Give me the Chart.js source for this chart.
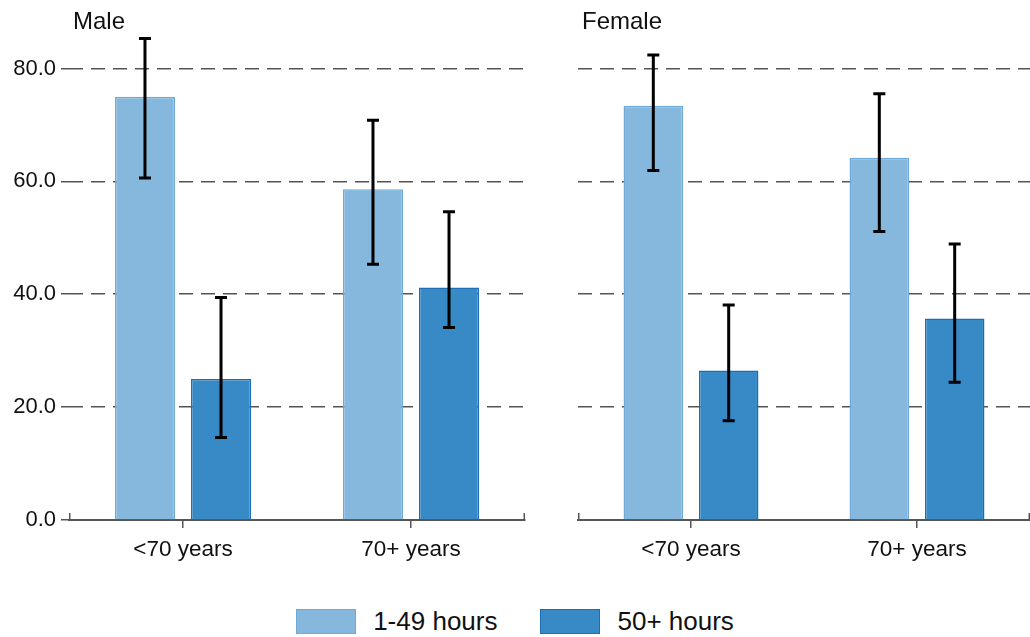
<!DOCTYPE html>
<html>
<head>
<meta charset="utf-8">
<script src="https://cdn.jsdelivr.net/npm/chart.js@4"></script>
<style>
  html, body { margin: 0; padding: 0; background: #fff; }
  #wrap { position: relative; width: 1030px; height: 637px; background: #fff; font-family: "Liberation Sans", Arial, sans-serif; }
  #cL { position: absolute; left: 0; top: 0; }
  #cR { position: absolute; left: 540px; top: 0; }
  #legend { position: absolute; left: 0; top: 605px; width: 1030px; height: 32px; display: flex; justify-content: center; align-items: center; }
  .item { display: flex; align-items: center; }
  .item + .item { margin-left: 43px; }
  .box { width: 58px; height: 23px; margin-right: 17px; }
  .lbl { font-size: 26px; color: #111; line-height: 26px; }
</style>
</head>
<body>
<div id="wrap">
  <canvas id="cL" width="540" height="570"></canvas>
  <canvas id="cR" width="490" height="570"></canvas>
  <div id="legend"></div>
</div>
<script>
// ---- data ----
const categories = ['<70 years', '70+ years'];
const seriesNames = ['1-49 hours', '50+ hours'];
const panelTitles = ['Male', 'Female'];
const yTicks = [0, 20, 40, 60, 80];

const male_1_49 = [75.0, 58.6];
const male_50 = [25.0, 41.2];
const male_1_49_ciLo = [60.6, 45.3];
const male_1_49_ciHi = [85.3, 70.8];
const male_50_ciLo = [14.6, 34.1];
const male_50_ciHi = [39.4, 54.6];

const female_1_49 = [73.4, 64.2];
const female_50 = [26.5, 35.7];
const female_1_49_ciLo = [61.9, 51.1];
const female_1_49_ciHi = [82.4, 75.5];
const female_50_ciLo = [17.6, 24.4];
const female_50_ciHi = [38.1, 48.9];

// ---- styles ----
const FONT = '"Liberation Sans", Arial, sans-serif';
const fills = ['#85b8dc', '#378ac6'];
const borders = ['#6eaad8', '#1c6fb6'];
const axisColor = '#555';

const errorBarPlugin = {
  id: 'errorBars',
  afterDatasetsDraw(chart, args, opts) {
    const ctx = chart.ctx;
    const ys = chart.scales.y;
    ctx.save();
    ctx.strokeStyle = '#000';
    ctx.lineWidth = 3;
    chart.data.datasets.forEach((ds, i) => {
      const meta = chart.getDatasetMeta(i);
      meta.data.forEach((el, j) => {
        const lo = ys.getPixelForValue(ds.ciLo[j]);
        const hi = ys.getPixelForValue(ds.ciHi[j]);
        const x = el.x;
        ctx.beginPath();
        ctx.moveTo(x, lo); ctx.lineTo(x, hi);
        ctx.moveTo(x - 6, lo); ctx.lineTo(x + 6, lo);
        ctx.moveTo(x - 6, hi); ctx.lineTo(x + 6, hi);
        ctx.stroke();
      });
    });
    ctx.restore();
  }
};

const decorPlugin = {
  id: 'decor',
  afterDraw(chart, args, opts) {
    const ctx = chart.ctx;
    const a = chart.chartArea;
    ctx.save();
    // end caps of x axis
    ctx.strokeStyle = axisColor;
    ctx.lineWidth = 1.5;
    ctx.beginPath();
    ctx.moveTo(a.left + 0.75, a.bottom); ctx.lineTo(a.left + 0.75, a.bottom - 7);
    ctx.moveTo(a.right - 0.75, a.bottom); ctx.lineTo(a.right - 0.75, a.bottom - 7);
    ctx.stroke();
    // panel title
    ctx.fillStyle = '#111';
    ctx.font = '24px ' + FONT;
    ctx.textBaseline = 'middle';
    ctx.textAlign = 'left';
    ctx.fillText(opts.text, a.left + 4, 22);
    ctx.restore();
  }
};

function makeChart(canvasId, title, d1, d2, ci1lo, ci1hi, ci2lo, ci2hi, showY) {
  return new Chart(document.getElementById(canvasId), {
    type: 'bar',
    data: {
      labels: categories,
      datasets: [
        { label: seriesNames[0], data: d1, ciLo: ci1lo, ciHi: ci1hi,
          backgroundColor: fills[0], borderColor: borders[0], borderWidth: 1.5 },
        { label: seriesNames[1], data: d2, ciLo: ci2lo, ciHi: ci2hi,
          backgroundColor: fills[1], borderColor: borders[1], borderWidth: 1.5 }
      ]
    },
    options: {
      responsive: false,
      animation: false,
      devicePixelRatio: 1,
      layout: { padding: showY ? { top: 12, right: 15, left: 0, bottom: 0 } : { top: 12, right: 0, left: 38, bottom: 0 } },
      datasets: { bar: { categoryPercentage: 0.667, barPercentage: 0.79 } },
      plugins: {
        legend: { display: false },
        tooltip: { enabled: false },
        decor: { text: title }
      },
      scales: {
        x: {
          offset: true,
          grid: { display: true, drawOnChartArea: false, drawTicks: true, tickLength: 8, offset: false,
                  color: axisColor, lineWidth: 1.5, tickColor: axisColor, tickWidth: 1.5 },
          border: { display: true, color: axisColor, width: 2 },
          ticks: { font: { size: 22.5, family: FONT }, color: '#111', padding: 8 },
          afterFit: s => { s.height = 50; s.paddingLeft = 0; s.paddingRight = 0; }
        },
        y: {
          min: 0, max: 90,
          afterBuildTicks: s => { s.ticks = yTicks.map(v => ({ value: v })); },
          grid: {
            color: c => (c.tick && c.tick.value === 0) ? 'rgba(0,0,0,0)' : axisColor,
            lineWidth: 1.5, drawTicks: showY, tickLength: 8, tickColor: axisColor, tickWidth: 1.5, tickBorderDash: []
          },
          border: { display: false, dash: [14, 8] },
          ticks: { display: showY, font: { size: 22, family: FONT }, color: '#111', padding: 5,
                   callback: v => Number(v).toFixed(1) },
          afterFit: s => { s.width = showY ? 69 : 0; s.paddingTop = 0; s.paddingBottom = 0; }
        }
      }
    },
    plugins: [errorBarPlugin, decorPlugin]
  });
}

makeChart('cL', panelTitles[0], male_1_49, male_50, male_1_49_ciLo, male_1_49_ciHi, male_50_ciLo, male_50_ciHi, true);
makeChart('cR', panelTitles[1], female_1_49, female_50, female_1_49_ciLo, female_1_49_ciHi, female_50_ciLo, female_50_ciHi, false);

// legend
const leg = document.getElementById('legend');
seriesNames.forEach((name, i) => {
  const it = document.createElement('div'); it.className = 'item';
  const b = document.createElement('div'); b.className = 'box';
  b.style.background = fills[i]; b.style.border = '1.5px solid ' + borders[i];
  const t = document.createElement('span'); t.className = 'lbl'; t.textContent = name;
  it.appendChild(b); it.appendChild(t); leg.appendChild(it);
});
</script>
</body>
</html>
